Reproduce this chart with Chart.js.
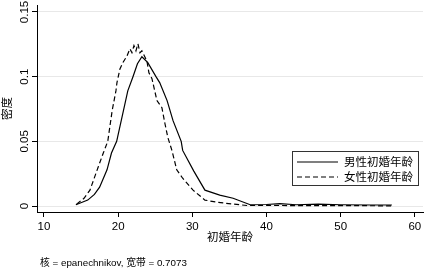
<!DOCTYPE html>
<html>
<head>
<meta charset="utf-8">
<script src="https://cdn.jsdelivr.net/npm/chart.js@4.4.1/dist/chart.umd.min.js"></script>
<style>
  html, body { margin: 0; padding: 0; background: #fff; }
  #wrap { width: 426px; height: 269px; }
</style>
</head>
<body>
<div id="wrap"><canvas id="kdensity"></canvas></div>
<script>
// kernel density of age at first marriage
var maleAge = [14.3, 15.9, 16.8, 17.5, 18.5, 19.1, 19.8, 21.3, 22.0, 22.6, 23.2, 24.0, 25.1, 25.6, 26.6, 27.4, 28.5, 28.7, 30.2, 31.7, 33.7, 35.5, 37.8, 40, 41.8, 44, 47, 50, 54, 56.9];
var maleDensity = [0.001, 0.0046, 0.009, 0.0146, 0.028, 0.041, 0.05, 0.089, 0.1, 0.11, 0.1154, 0.1108, 0.1, 0.0954, 0.0815, 0.066, 0.05, 0.043, 0.027, 0.0123, 0.0085, 0.006, 0.001, 0.0012, 0.0018, 0.001, 0.0015, 0.001, 0.0008, 0.0008];

var femaleAge = [14.4, 15.4, 16.2, 17.3, 18.0, 18.6, 19.2, 19.7, 19.84, 20.24, 20.65, 21.19, 21.59, 21.86, 22.13, 22.4, 22.67, 22.94, 23.2, 23.88, 24.15, 24.56, 25.23, 25.9, 26.3, 26.7, 27.25, 27.9, 28.7, 30.1, 31.7, 33.3, 35.5, 37.4, 40, 45, 50, 55, 56.9];
var femaleDensity = [0.0015, 0.006, 0.0123, 0.03, 0.041, 0.05, 0.074, 0.089, 0.0954, 0.106, 0.111, 0.116, 0.1215, 0.1185, 0.124, 0.12, 0.1254, 0.1185, 0.12, 0.112, 0.103, 0.0985, 0.0815, 0.076, 0.064, 0.053, 0.043, 0.028, 0.0215, 0.0123, 0.0046, 0.003, 0.0015, 0.0004, 0.0005, 0.0003, 0.0004, 0.0002, 0.0001];

var seriesNames = ["男性初婚年龄", "女性初婚年龄"];
var xTicks = [10, 20, 30, 40, 50, 60];
var yTicks = [0, 0.05, 0.1, 0.15];
var yTickLabels = ["0", "0.05", "0.1", "0.15"];
var xTitle = "初婚年龄";
var yTitle = "密度";
var note = "核 = epanechnikov, 宽带 = 0.7073";

var FONT = "'Liberation Sans', Arial, 'Noto Sans CJK SC', sans-serif";

function toPoints(xs, ys) {
  return xs.map(function (x, i) { return { x: x, y: ys[i] }; });
}

// legend box inside the plot + the kernel note under the chart
const stataExtras = {
  id: "stataExtras",
  afterDraw(chart) {
    const ctx = chart.ctx;
    ctx.save();
    // legend
    const bx = 292.5, by = 151.5, bw = 126, bh = 34;
    ctx.fillStyle = "#fff";
    ctx.fillRect(bx, by, bw, bh);
    ctx.strokeStyle = "#333";
    ctx.lineWidth = 1;
    ctx.strokeRect(bx, by, bw, bh);
    ctx.font = "11.5px " + FONT;
    ctx.textBaseline = "middle";
    ctx.textAlign = "left";
    chart.data.datasets.forEach(function (ds, i) {
      const y = 162 + i * 15;
      ctx.beginPath();
      ctx.setLineDash(ds.borderDash || []);
      ctx.strokeStyle = "#000";
      ctx.lineWidth = 1.2;
      ctx.moveTo(297, y);
      ctx.lineTo(338, y);
      ctx.stroke();
      ctx.setLineDash([]);
      ctx.fillStyle = "#000";
      ctx.fillText(ds.label, 344, y + 0.5);
    });
    // note
    ctx.font = "9.8px " + FONT;
    ctx.fillStyle = "#000";
    ctx.fillText(note, 40, 263);
    ctx.restore();
  }
};

const config_kdensity = {
  type: "line",
  data: {
    datasets: [
      {
        label: seriesNames[0],
        data: toPoints(maleAge, maleDensity),
        borderColor: "#000",
        borderWidth: 1.2,
      },
      {
        label: seriesNames[1],
        data: toPoints(femaleAge, femaleDensity),
        borderColor: "#000",
        borderWidth: 1.2,
        borderDash: [5, 3],
      },
    ],
  },
  options: {
    responsive: false,
    animation: false,
    layout: { padding: { top: 5, right: 3, left: 0, bottom: 0 } },
    elements: {
      point: { radius: 0 },
      line: { tension: 0, fill: false },
    },
    plugins: {
      legend: { display: false },
      tooltip: { enabled: false },
    },
    scales: {
      x: {
        type: "linear",
        min: 9.06,
        max: 61.1,
        afterBuildTicks(scale) {
          scale.ticks = xTicks.map(function (v) { return { value: v }; });
        },
        afterFit(scale) { scale.height = 57; },
        border: { color: "#000", width: 1 },
        grid: { drawOnChartArea: false, tickLength: 5, tickColor: "#000" },
        ticks: {
          color: "#000",
          font: { family: FONT, size: 11.5 },
          padding: 3,
          maxRotation: 0,
        },
        title: {
          display: true,
          text: xTitle,
          color: "#000",
          font: { family: FONT, size: 11.5 },
          padding: { top: 0, bottom: 24 },
        },
      },
      y: {
        type: "linear",
        min: -0.0046,
        max: 0.1554,
        afterBuildTicks(scale) {
          scale.ticks = yTicks.map(function (v) { return { value: v }; });
        },
        afterFit(scale) { scale.width = 37; },
        border: { color: "#000", width: 1 },
        grid: { color: "#e8e8e8", lineWidth: 1, tickLength: 5, tickColor: "#000" },
        ticks: {
          color: "#000",
          font: { family: FONT, size: 11.5 },
          minRotation: 90,
          maxRotation: 90,
          crossAlign: "center",
          padding: -4,
          callback: function (value) {
            const i = yTicks.indexOf(value);
            return i >= 0 ? yTickLabels[i] : "";
          },
        },
        title: {
          display: true,
          text: yTitle,
          color: "#000",
          font: { family: FONT, size: 11.5 },
          padding: { top: 1.4, bottom: 0 },
        },
      },
    },
  },
  plugins: [stataExtras],
};

const canvas = document.getElementById("kdensity");
canvas.width = 426;
canvas.height = 269;
const kdensity = new Chart(canvas, config_kdensity);
</script>
</body>
</html>
